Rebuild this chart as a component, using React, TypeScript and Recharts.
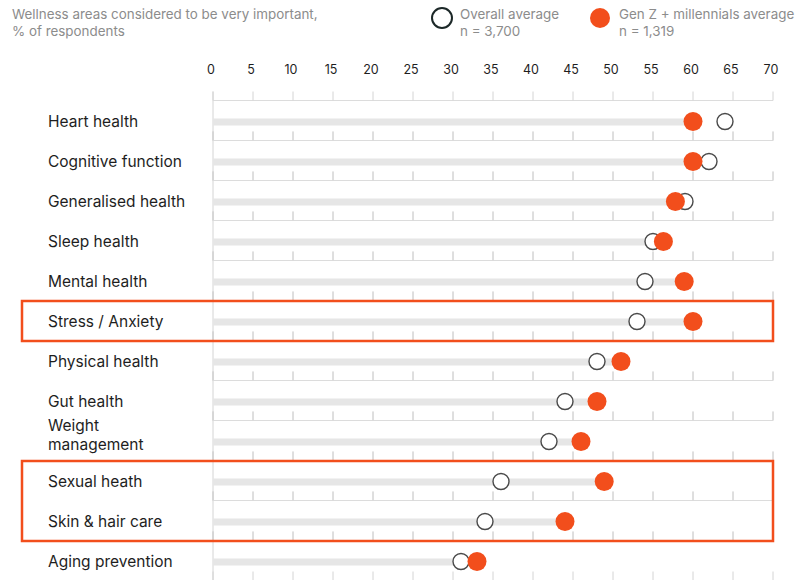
import React from "react";
import {
  ComposedChart,
  Bar,
  Line,
  XAxis,
  YAxis,
  ReferenceArea,
} from "recharts";

const areas = [
  "Heart health",
  "Cognitive function",
  "Generalised health",
  "Sleep health",
  "Mental health",
  "Stress / Anxiety",
  "Physical health",
  "Gut health",
  "Weight\nmanagement",
  "Sexual heath",
  "Skin & hair care",
  "Aging prevention",
];
const overallAvg = [64, 62, 59, 55, 54, 53, 48, 44, 42, 36, 34, 31];
const genZAvg = [60, 60, 57.8, 56.3, 58.9, 60, 51, 48, 46, 48.9, 44, 33];
const xTicks = [0, 5, 10, 15, 20, 25, 30, 35, 40, 45, 50, 55, 60, 65, 70];

const ORANGE = "#f24e1c";
const ROW_H = 40;
const FONT = "Inter, 'Noto Sans', sans-serif";

const data = areas.map((area, i) => ({
  area,
  overall: overallAvg[i],
  genz: genZAvg[i],
}));

// baseline + small ticks above it, at top and bottom of each row band
function RowGrid(props: any) {
  const { x, width, y, height } = props;
  const cy = y + height / 2;
  const top = cy - ROW_H / 2;
  const bottom = cy + ROW_H / 2;
  const step = width / (xTicks.length - 1);
  return (
    <g>
      <line x1={x} x2={x} y1={top - 9} y2={bottom} stroke="#d4d4d4" strokeWidth={1} />
      {[top, bottom].map((by) => (
        <g key={by}>
          <line x1={x} x2={x + width} y1={by} y2={by} stroke="#dcdcdc" strokeWidth={1} />
          {xTicks.map((_, k) => (
            <line
              key={k}
              x1={x + step * k}
              x2={x + step * k}
              y1={by - 9}
              y2={by}
              stroke="#d4d4d4"
              strokeWidth={1}
            />
          ))}
        </g>
      ))}
    </g>
  );
}

function AreaTick(props: any) {
  const { y, payload } = props;
  const lines = String(payload.value).split("\n");
  const lh = 19;
  const shift = lines.length > 1 ? -5 : 1;
  const start = y + shift - ((lines.length - 1) * lh) / 2;
  return (
    <text x={48} y={start} fill="#1e1e1e" fontSize={15.5} fontFamily={FONT}>
      {lines.map((l, i) => (
        <tspan key={i} x={48} y={start + i * lh} dominantBaseline="central">
          {l}
        </tspan>
      ))}
    </text>
  );
}

function OverallDot(props: any) {
  const { cx, cy } = props;
  if (cx == null) return null;
  return <circle cx={cx} cy={cy + 1.5} r={8} fill="#fff" stroke="#4a4a4a" strokeWidth={1.4} />;
}

function GenZDot(props: any) {
  const { cx, cy } = props;
  if (cx == null) return null;
  return <circle cx={cx} cy={cy + 1.5} r={9.5} fill={ORANGE} />;
}

function Track(props: any) {
  const { x, y, width, height } = props;
  return <rect x={x} y={y + 1.5} width={width} height={height} fill="#e6e6e6" />;
}

function HighlightBox(props: any) {
  const { x, y, width, height } = props;
  const left = 22;
  return (
    <rect
      x={left}
      y={y + 1}
      width={x + width - left}
      height={height}
      fill="none"
      stroke={ORANGE}
      strokeWidth={2.5}
    />
  );
}

const noteStyle: React.CSSProperties = {
  position: "absolute",
  top: 6,
  fontSize: 13.4,
  lineHeight: "17px",
  color: "#8c8c8c",
};

export default function App() {
  return (
    <div
      style={{
        position: "absolute",
        top: 0,
        left: 0,
        width: 795,
        height: 580,
        background: "#fff",
        fontFamily: FONT,
        overflow: "hidden",
      }}
    >
      <div style={{ ...noteStyle, left: 12 }}>
        Wellness areas considered to be very important,
        <br />% of respondents
      </div>

      <div
        style={{
          position: "absolute",
          left: 431,
          top: 7,
          width: 18,
          height: 18,
          borderRadius: "50%",
          border: "2px solid #1c2828",
          background: "#fff",
        }}
      />
      <div style={{ ...noteStyle, left: 460 }}>
        Overall average
        <br />n = 3,700
      </div>

      <div
        style={{
          position: "absolute",
          left: 590,
          top: 8,
          width: 20,
          height: 20,
          borderRadius: "50%",
          background: ORANGE,
        }}
      />
      <div style={{ ...noteStyle, left: 619 }}>
        Gen Z + millennials average
        <br />n = 1,319
      </div>

      <div style={{ position: "absolute", left: 0, top: 0 }}>
        <ComposedChart
          width={795}
          height={590}
          data={data}
          layout="vertical"
          margin={{ top: 70, right: 22, bottom: 10, left: 0 }}
        >
          <XAxis
            type="number"
            orientation="top"
            domain={[0, 70]}
            ticks={xTicks}
            height={30}
            axisLine={false}
            tickLine={false}
            tickSize={0}
            tickMargin={26}
            tick={{ fill: "#1e1e1e", fontSize: 12.5, fontFamily: FONT, dx: -2 }}
            interval={0}
          />
          <YAxis
            type="category"
            dataKey="area"
            width={213}
            axisLine={false}
            tickLine={false}
            tick={<AreaTick />}
            interval={0}
          />
          <Bar
            dataKey="genz"
            barSize={7}
            shape={<Track />}
            background={<RowGrid />}
            isAnimationActive={false}
          />
          <ReferenceArea
            y1="Stress / Anxiety"
            y2="Stress / Anxiety"
            shape={<HighlightBox />}
            ifOverflow="visible"
          />
          <ReferenceArea
            y1="Sexual heath"
            y2="Skin & hair care"
            shape={<HighlightBox />}
            ifOverflow="visible"
          />
          <Line
            dataKey="overall"
            stroke="none"
            dot={<OverallDot />}
            activeDot={false}
            isAnimationActive={false}
          />
          <Line
            dataKey="genz"
            stroke="none"
            dot={<GenZDot />}
            activeDot={false}
            isAnimationActive={false}
          />
        </ComposedChart>
      </div>
    </div>
  );
}
